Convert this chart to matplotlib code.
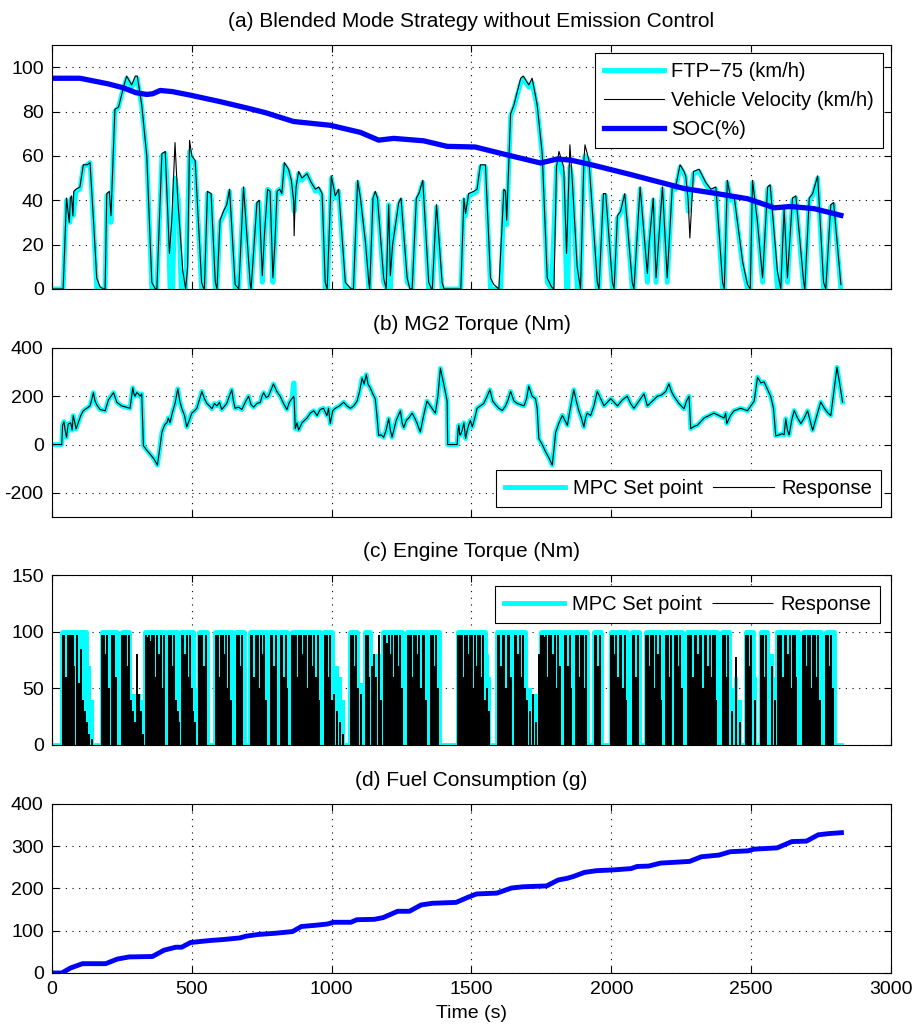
import matplotlib
matplotlib.use('Agg')
import matplotlib.pyplot as plt

plt.rcParams['font.family'] = ['Liberation Sans', 'DejaVu Sans']
plt.rcParams['axes.unicode_minus'] = False

# ---------------- (a) drive cycle, vehicle speed and SOC ----------------
ftp_t = [0, 40, 52, 64, 70, 76, 86, 100, 112, 126, 136, 148, 160,
         190, 196, 205, 211, 225, 238, 250, 267, 285, 305, 321, 339, 357,
         375, 393, 405, 413, 422, 432, 440, 452, 462,
         478, 492, 500, 512, 535,
         545, 556, 569, 584,
         590, 601, 613, 625, 635, 655,
         668, 685, 709,
         712, 733, 741, 752, 760, 771, 780, 790,
         797, 805, 814, 822, 831, 846, 856, 866, 873, 882, 894, 912, 927, 942, 954, 966, 977,
         985, 999, 1013, 1025, 1049,
         1078, 1093, 1103, 1121, 1133,
         1136, 1148, 1156, 1164, 1186,
         1198, 1204, 1210, 1218, 1240, 1248, 1270,
         1288, 1303, 1312, 1326, 1347,
         1360, 1375, 1395, 1462,
         1473, 1479, 1490, 1508, 1520, 1532, 1550, 1568, 1605,
         1616, 1622, 1626, 1640, 1652, 1676, 1685, 1705, 1717, 1735, 1753, 1771, 1786,
         1804, 1813, 1830, 1840, 1845, 1852, 1860, 1878, 1890,
         1902, 1906, 1920, 1950,
         1956, 1972, 1980, 2004,
         2010, 2022, 2033, 2048, 2075,
         2081, 2103, 2129, 2135, 2150, 2160, 2183, 2200, 2218, 2230, 2246, 2260, 2266, 2275, 2294, 2314, 2338, 2356, 2374, 2398,
         2404, 2415, 2427, 2439, 2470, 2487,
         2497, 2505, 2522, 2541, 2559, 2568, 2594,
         2606, 2618, 2630, 2648, 2660, 2688,
         2692, 2708, 2720, 2738, 2759,
         2767, 2785, 2795, 2821]
ftp_kmh = [0, 0, 40, 30, 41, 33, 44, 45, 55, 56, 57, 30, 0,
           0, 42, 43, 30, 80, 82, 88, 95, 91, 95, 82, 60, 0,
           0, 60, 61, 45, 0, 0, 50, 40, 0,
           0, 62, 58, 57, 0,
           0, 43, 42, 0,
           0, 30, 33, 37, 44, 0,
           0, 45, 0,
           0, 38, 39, 3, 25, 45, 44, 3,
           20, 44, 45, 43, 56, 53, 48, 35, 45, 52, 49, 52, 48, 44, 45, 42, 0,
           0, 50, 41, 44, 0,
           0, 48, 40, 20, 0,
           0, 40, 43, 40, 3,
           0, 38, 0, 20, 38, 40, 3,
           0, 40, 42, 48, 0,
           0, 37, 0, 0,
           40, 33, 42, 43, 44, 55, 55, 0, 0,
           44, 43, 29, 78, 82, 93, 95, 91, 93, 82, 60, 3, 0,
           55, 58, 50, 0, 0, 55, 50, 0, 0,
           58, 60, 58, 0,
           0, 42, 42, 0,
           0, 32, 34, 42, 0,
           0, 45, 3, 20, 40, 3, 45, 3, 45, 45, 55, 52, 50, 35, 52, 53, 47, 44, 45, 0,
           0, 48, 40, 41, 10, 0,
           0, 48, 30, 3, 45, 46, 0,
           0, 35, 3, 40, 41, 0,
           0, 40, 42, 50, 0,
           0, 37, 38, 0]

veh_t = [0, 40, 52, 62, 66, 70, 75, 78, 86, 100, 112, 126, 136, 148, 160, 172, 184,
         190, 196, 205, 211, 225, 238, 250, 258, 267, 285, 298, 305, 321, 339, 357, 370,
         375, 393, 405, 413, 420, 428, 440, 450, 468, 478,
         485, 492, 500, 512, 535, 543,
         545, 556, 569, 584, 590,
         601, 613, 625, 635, 655,
         668, 685, 709,
         712, 733, 741, 752, 760, 771, 780, 790,
         797, 805, 814, 822, 831, 846, 856, 864, 866, 869, 873, 882, 894, 912, 927, 942, 954, 966, 977, 984,
         999, 1013, 1025, 1049, 1070,
         1078, 1093, 1103, 1121, 1133,
         1136, 1148, 1156, 1164, 1186, 1195,
         1204, 1210, 1218, 1240, 1248, 1270, 1280,
         1288, 1303, 1312, 1326, 1347, 1357,
         1360, 1375, 1395, 1402, 1462,
         1473, 1479, 1490, 1508, 1520, 1532, 1550, 1568, 1580, 1598,
         1616, 1622, 1626, 1640, 1652, 1676, 1685, 1705, 1717, 1735, 1753, 1771, 1786, 1795,
         1804, 1813, 1830, 1840, 1852, 1860, 1878, 1890,
         1902, 1906, 1920, 1950, 1956,
         1972, 1980, 2004, 2010,
         2022, 2033, 2048, 2075, 2081,
         2103, 2129, 2135, 2150, 2160, 2183, 2200, 2218, 2230, 2246, 2260, 2266, 2275, 2281, 2294, 2314, 2338, 2356, 2374, 2398, 2404,
         2415, 2427, 2439, 2470, 2487, 2497,
         2505, 2522, 2541, 2559, 2568, 2594, 2606,
         2618, 2630, 2648, 2660, 2688, 2692,
         2708, 2720, 2738, 2759, 2767,
         2785, 2795, 2821]
veh_kmh = [0, 0, 41, 30, 41, 42, 33, 44, 45, 46, 56, 56, 57, 32, 5, 1, 0,
           0, 43, 44, 33, 81, 82, 88, 92, 96, 92, 96, 96, 83, 60, 3, 0,
           0, 61, 62, 37, 16, 30, 66, 40, 8, 0,
           10, 67, 60, 58, 3, 0,
           0, 44, 43, 3, 0,
           31, 35, 38, 45, 2,
           0, 46, 2,
           0, 39, 40, 6, 25, 45, 44, 5,
           20, 44, 45, 43, 57, 54, 49, 40, 24, 38, 46, 53, 50, 52, 48, 45, 46, 43, 3, 0,
           51, 42, 45, 3, 0,
           0, 49, 41, 21, 3,
           0, 41, 44, 41, 5, 0,
           38, 6, 20, 39, 41, 5, 0,
           0, 41, 43, 49, 3, 0,
           0, 38, 3, 0, 0,
           41, 34, 43, 44, 45, 56, 56, 5, 2, 0,
           45, 44, 31, 79, 83, 95, 96, 92, 95, 83, 61, 5, 1, 0,
           55, 62, 55, 16, 65, 50, 10, 0,
           58, 65, 58, 3, 0,
           43, 43, 3, 0,
           33, 35, 43, 3, 0,
           46, 7, 20, 41, 5, 46, 5, 46, 46, 56, 53, 51, 40, 23, 53, 54, 48, 45, 46, 3, 0,
           49, 41, 42, 12, 2, 0,
           49, 31, 5, 46, 47, 8, 0,
           36, 5, 41, 42, 3, 0,
           41, 43, 51, 3, 0,
           38, 39, 2]

soc_t = [0, 100, 200, 255, 300, 339, 360, 387, 430, 494,
         600, 700, 763, 864, 995, 1103, 1168, 1222, 1329, 1413,
         1514, 1616, 1747, 1807, 1855, 1926, 2069, 2260, 2368, 2487,
         2583, 2642, 2726, 2821]
soc_pct = [95, 95, 92.5, 90.7, 88.5, 87.7, 88, 89.5, 89, 87.4,
           84.5, 81.5, 79.5, 75.5, 73.8, 70.6, 67.1, 67.9, 66.8, 64.3,
           64.0, 60.8, 56.8, 58.6, 58.1, 56.1, 51.6, 45.3, 43.2, 40.7,
           36.6, 37.2, 36.2, 33.2]

# ---------------- (b) MG2 torque ----------------
mg2_t = [0, 35, 38, 43, 47, 52, 58, 67, 72, 76, 81, 86, 94, 103, 112, 124, 136, 142, 148, 154,
         160, 172, 190, 202, 211, 220, 232, 249, 265, 279, 285, 289, 293, 297, 303, 309, 315, 321,
         327, 340, 351, 365, 377, 385, 393, 399, 405, 411, 416, 422, 430, 440, 450, 457, 464, 474,
         482, 491, 500, 510, 518, 527, 536, 545, 554, 563, 572, 581, 590, 599, 607, 625, 634, 643,
         649, 655, 667, 679, 691, 703, 712, 721, 733, 745, 751, 757, 766, 774, 783, 792, 804, 816,
         828, 840, 849, 858, 864, 866, 870, 876, 882, 894, 912, 924, 936, 948, 959, 971, 983, 989,
         995, 1004, 1013, 1028, 1043, 1055, 1067, 1079, 1091, 1100, 1109, 1116, 1124, 1130, 1138,
         1147, 1156, 1162, 1168, 1177, 1186, 1195, 1204, 1210, 1216, 1231, 1246, 1252, 1258, 1267,
         1276, 1288, 1297, 1305, 1311, 1317, 1329, 1341, 1350, 1359, 1365, 1371, 1380, 1389, 1401,
         1413, 1415, 1449, 1452, 1455, 1458, 1461, 1467, 1473, 1479, 1485, 1490, 1496, 1503, 1512,
         1520, 1532, 1544, 1556, 1566, 1576, 1586, 1598, 1610, 1622, 1631, 1640, 1652, 1664, 1676,
         1688, 1697, 1705, 1717, 1729, 1735, 1741, 1753, 1765, 1777, 1789, 1795, 1801, 1813, 1825,
         1834, 1843, 1852, 1860, 1866, 1875, 1884, 1893, 1902, 1908, 1914, 1920, 1926, 1938, 1950,
         1962, 1974, 1986, 1998, 2010, 2022, 2040, 2057, 2069, 2081, 2099, 2117, 2129, 2147, 2165,
         2180, 2195, 2206, 2215, 2224, 2242, 2260, 2269, 2278, 2284, 2296, 2308, 2320, 2332, 2350,
         2367, 2385, 2403, 2409, 2413, 2426, 2439, 2451, 2463, 2475, 2487, 2499, 2511, 2517, 2523,
         2535, 2546, 2558, 2570, 2580, 2588, 2600, 2612, 2618, 2624, 2630, 2636, 2645, 2654, 2666,
         2678, 2690, 2702, 2711, 2720, 2735, 2749, 2762, 2775, 2785, 2796, 2807, 2817, 2827]
mg2_setpoint = [0, 0, 80, 95, 60, 30, 85, 90, 60, 120, 95, 65, 90, 120, 140, 150, 160, 185, 215, 180,
                165, 145, 140, 185, 200, 215, 175, 160, 155, 150, 200, 235, 210, 200, 215, 210, 200, 210,
                -5, -25, -40, -60, -85, -20, 50, 70, 85, 90, 110, 90, 130, 170, 231, 180, 150, 120,
                73, 100, 130, 140, 150, 185, 220, 190, 170, 160, 148, 170, 160, 175, 145, 170, 200, 227,
                180, 150, 155, 145, 175, 200, 165, 155, 170, 175, 200, 215, 195, 200, 225, 251, 220, 200,
                170, 145, 175, 190, 255, 255, 66, 90, 60, 90, 110, 130, 140, 120, 145, 150, 120, 150,
                87, 140, 150, 160, 175, 160, 150, 160, 180, 220, 275, 250, 290, 250, 235,
                210, 190, 120, 38, 40, 30, 60, 107, 60, 30, 100, 140, 90, 70, 100,
                110, 130, 110, 90, 70, 52, 120, 180, 165, 150, 140, 130, 200, 316, 250,
                180, 0, 0, 60, 80, 40, 40, 60, 90, 25, 60, 80, 100, 73, 110,
                150, 160, 170, 200, 227, 180, 165, 150, 141, 160, 185, 220, 180, 170, 165,
                160, 190, 242, 200, 190, 150, 25, 0, -30, -55, -85, -20, 50, 90, 121,
                100, 80, 140, 190, 227, 180, 140, 110, 73, 110, 130, 125, 120, 160, 220,
                190, 160, 175, 190, 175, 160, 185, 200, 170, 150, 180, 210, 160, 180, 200,
                205, 220, 251, 220, 200, 170, 148, 180, 200, 66, 75, 80, 95, 110, 120,
                130, 120, 110, 130, 87, 120, 140, 145, 150, 145, 140, 160, 180, 230, 279,
                255, 260, 230, 200, 150, 36, 40, 45, 40, 107, 60, 40, 100, 141, 110,
                87, 110, 140, 100, 59, 120, 176, 150, 130, 120, 220, 320, 250, 176]
mg2_response = [0, 0, 80, 95, 60, 30, 85, 90, 60, 120, 95, 65, 90, 120, 140, 150, 160, 185, 215, 180,
                165, 145, 140, 185, 200, 215, 175, 160, 155, 150, 200, 235, 210, 200, 215, 210, 200, 210,
                -5, -25, -40, -60, -85, -20, 50, 70, 85, 90, 110, 90, 130, 170, 231, 180, 150, 120,
                73, 100, 130, 140, 150, 185, 220, 190, 170, 160, 148, 170, 160, 175, 145, 170, 200, 227,
                180, 150, 155, 145, 175, 200, 165, 155, 170, 175, 200, 215, 195, 200, 225, 251, 220, 200,
                170, 145, 175, 190, 200, 190, 66, 90, 60, 90, 110, 130, 140, 120, 145, 150, 120, 150,
                87, 140, 150, 160, 175, 160, 150, 160, 180, 220, 275, 250, 290, 250, 235,
                210, 190, 120, 38, 40, 30, 60, 107, 60, 30, 100, 140, 90, 70, 100,
                110, 130, 110, 90, 70, 52, 120, 180, 165, 150, 140, 130, 200, 316, 250,
                180, 0, 0, 60, 80, 40, 40, 60, 90, 25, 60, 80, 100, 73, 110,
                150, 160, 170, 200, 227, 180, 165, 150, 141, 160, 185, 220, 180, 170, 165,
                160, 190, 242, 200, 190, 150, 25, 0, -30, -55, -85, -20, 50, 90, 121,
                100, 80, 140, 190, 227, 180, 140, 110, 73, 110, 130, 125, 120, 160, 220,
                190, 160, 175, 190, 175, 160, 185, 200, 170, 150, 180, 210, 160, 180, 200,
                205, 220, 251, 220, 200, 170, 148, 180, 200, 66, 75, 80, 95, 110, 120,
                130, 120, 110, 130, 87, 120, 140, 145, 150, 145, 140, 160, 180, 230, 279,
                255, 260, 230, 200, 150, 36, 40, 45, 40, 107, 60, 40, 100, 141, 110,
                87, 110, 140, 100, 59, 120, 176, 150, 130, 120, 220, 320, 250, 176]

# ---------------- (c) engine torque ----------------
# intervals where the set point sits at its 100 Nm ceiling
engine_on_start = [35, 178, 214, 249, 333, 416, 462, 524, 584, 659, 709, 780, 816, 858, 974,
                   1067, 1121, 1184, 1270, 1353, 1451, 1592, 1652, 1747, 1831, 1872, 1938, 1998,
                   2075, 2123, 2195, 2227, 2272, 2397, 2481, 2534, 2594, 2684, 2767]
engine_on_end = [122, 205, 232, 277, 405, 446, 506, 556, 643, 685, 768, 804, 842, 959, 1001,
                 1091, 1138, 1252, 1341, 1383, 1550, 1646, 1693, 1819, 1860, 1914, 1962, 2057,
                 2099, 2183, 2218, 2254, 2379, 2421, 2505, 2558, 2666, 2749, 2797]
cycle_end = 2821

# on/off switching pulses: time, set point peak, response peak
engine_pulse_t = (
    [38, 44, 50, 56, 62, 68, 74, 80, 88, 96, 104, 112, 118, 126, 134, 142]
    + [180, 186, 192, 198, 204] + [216, 222, 228]
    + [251, 257, 263, 269, 275, 283, 290, 297, 303, 310, 318, 326]
    + [335, 341, 347, 353, 359, 365, 371, 377, 383, 389, 395, 401]
    + [418, 424, 430, 436, 442, 450, 456]
    + [464, 470, 476, 482, 488, 494, 500, 505, 512]
    + [526, 532, 538, 544, 550]
    + [586, 592, 598, 604, 610, 616, 622, 628, 634, 640]
    + [661, 667, 673, 679]
    + [711, 717, 723, 729, 735, 741, 747, 753, 759, 765]
    + [782, 788, 794, 800] + [818, 824, 830, 836, 841]
    + [860, 866, 872, 878, 884, 890, 896, 902, 908, 914, 920, 926, 932, 938, 944, 950, 956]
    + [976, 982, 988, 994, 1000, 1010, 1020, 1030, 1040]
    + [1069, 1075, 1081, 1087, 1095, 1105]
    + [1123, 1129, 1135, 1145, 1152, 1160, 1168, 1175]
    + [1186, 1192, 1198, 1204, 1210, 1216, 1222, 1228, 1234, 1240, 1246, 1251]
    + [1272, 1278, 1284, 1290, 1296, 1302, 1308, 1314, 1320, 1326, 1332, 1338]
    + [1355, 1361, 1367, 1373, 1379]
    + [1453, 1459, 1465, 1471, 1477, 1483, 1489, 1495, 1501, 1507, 1513, 1519, 1525, 1531, 1537,
       1543, 1549, 1556, 1562]
    + [1594, 1600, 1606, 1612, 1618, 1624, 1630, 1636, 1642]
    + [1654, 1660, 1666, 1672, 1678, 1684, 1690, 1700, 1710, 1720, 1730, 1740]
    + [1749, 1755, 1761, 1767, 1773, 1779, 1785, 1791, 1797, 1803, 1809, 1815]
    + [1833, 1839, 1845, 1851, 1857] + [1874, 1880, 1886, 1892, 1898, 1904, 1910]
    + [1940, 1946, 1952, 1958]
    + [2000, 2006, 2012, 2018, 2024, 2030, 2036, 2042, 2048, 2054]
    + [2077, 2083, 2089, 2095]
    + [2125, 2131, 2137, 2143, 2149, 2155, 2161, 2167, 2173, 2179]
    + [2197, 2203, 2209, 2215] + [2229, 2235, 2241, 2247, 2252]
    + [2274, 2280, 2286, 2292, 2298, 2304, 2310, 2316, 2322, 2328, 2334, 2340, 2346, 2352, 2358,
       2364, 2370, 2376]
    + [2399, 2405, 2411, 2417, 2430, 2445, 2460]
    + [2483, 2489, 2495, 2501, 2515]
    + [2536, 2542, 2548, 2554, 2575, 2585]
    + [2596, 2602, 2608, 2614, 2620, 2626, 2632, 2638, 2644, 2650, 2656, 2662]
    + [2686, 2692, 2698, 2704, 2710, 2716, 2722, 2728, 2734, 2740, 2746]
    + [2769, 2775, 2781, 2787, 2793]
)
engine_pulse_sp = (
    [100] * 12 + [80, 75, 70, 40]
    + [100] * 5 + [100] * 3
    + [100] * 5 + [45, 45, 45, 40, 45, 40, 20]
    + [100] * 12
    + [100] * 5 + [60, 55]
    + [100] * 8 + [50]
    + [100] * 5
    + [100] * 10
    + [100] * 4
    + [100] * 10
    + [100] * 4 + [100] * 5
    + [100] * 17
    + [100] * 5 + [70, 70, 60, 40]
    + [100] * 4 + [60, 55]
    + [100] * 3 + [80, 80, 80, 80, 50]
    + [100] * 12
    + [100] * 12
    + [100] * 5
    + [100] * 17 + [80, 60]
    + [100] * 9
    + [100] * 7 + [50, 50, 45, 45, 40]
    + [100] * 12
    + [100] * 5 + [100] * 7
    + [100] * 4
    + [100] * 10
    + [100] * 4
    + [100] * 10
    + [100] * 4 + [100] * 5
    + [100] * 18
    + [100] * 4 + [50, 60, 40]
    + [100] * 4 + [60]
    + [100] * 4 + [80, 60]
    + [100] * 12
    + [100] * 11
    + [100] * 5
)
engine_pulse_resp = (
    [97, 97, 60, 97, 97, 97, 97, 70, 97, 55, 85, 40, 30, 20, 10, 5]
    + [97, 97, 80, 97, 50] + [97, 97, 60]
    + [97, 97, 97, 70, 97, 40, 30, 20, 80, 45, 30, 10]
    + [97, 95, 97, 92, 97, 97, 60, 97, 80, 97, 50, 97]
    + [97, 97, 70, 97, 40, 30, 20]
    + [97, 97, 80, 97, 60, 97, 50, 30, 20]
    + [97, 97, 97, 70, 97]
    + [97, 97, 60, 97, 97, 80, 97, 50, 97, 40]
    + [97, 97, 70, 97]
    + [97, 97, 60, 97, 97, 50, 97, 80, 97, 40]
    + [97, 97, 70, 97] + [97, 97, 60, 97, 50]
    + [97, 97, 97, 60, 97, 97, 80, 97, 97, 50, 97, 97, 70, 97, 60, 97, 40]
    + [97, 97, 60, 97, 40, 45, 30, 20, 10]
    + [97, 97, 70, 97, 50, 45]
    + [97, 97, 60, 70, 80, 60, 97, 40]
    + [97, 97, 90, 97, 80, 97, 60, 97, 97, 70, 97, 50]
    + [97, 97, 97, 60, 97, 97, 80, 97, 50, 97, 97, 40]
    + [97, 97, 70, 97, 50]
    + [97, 97, 97, 60, 97, 97, 80, 97, 97, 50, 97, 70, 97, 97, 60, 97, 40, 50, 30]
    + [97, 97, 70, 97, 97, 50, 97, 97, 60]
    + [97, 97, 80, 97, 60, 97, 50, 40, 30, 45, 20, 80]
    + [97, 97, 95, 97, 60, 97, 97, 80, 97, 50, 97, 70]
    + [97, 97, 70, 97, 50] + [97, 97, 60, 97, 97, 50, 97]
    + [97, 97, 70, 97]
    + [97, 97, 80, 97, 60, 97, 97, 50, 97, 40]
    + [97, 97, 60, 97]
    + [97, 97, 70, 97, 97, 50, 97, 80, 97, 40]
    + [97, 97, 60, 97] + [97, 97, 70, 97, 50]
    + [97, 97, 97, 60, 97, 97, 80, 97, 97, 50, 97, 97, 70, 97, 60, 97, 97, 40]
    + [97, 97, 60, 97, 30, 78, 20]
    + [97, 97, 70, 97, 40]
    + [97, 97, 60, 97, 70, 40]
    + [97, 97, 97, 60, 97, 97, 80, 97, 50, 97, 97, 60]
    + [97, 97, 70, 97, 97, 50, 97, 97, 60, 97, 40]
    + [97, 97, 70, 97, 50]
)

# ---------------- (d) cumulative fuel ----------------
fuel_t = [0, 35, 67, 109, 192, 234, 276, 359, 401, 443, 464, 495, 537, 568, 610, 672, 693, 735,
          798, 860, 892, 944, 986, 1006, 1069, 1090, 1153, 1184, 1236, 1278, 1320, 1361, 1445,
          1487, 1518, 1591, 1643, 1685, 1769, 1810, 1842, 1863, 1904, 1946, 2009, 2071, 2092,
          2134, 2176, 2280, 2322, 2385, 2426, 2489, 2510, 2593, 2646, 2698, 2740, 2781, 2823]
fuel_g = [0, 0, 12, 22, 22, 33, 38, 39, 54, 61, 61, 72, 75, 77, 79, 83, 87, 91,
          94, 98, 110, 113, 116, 120, 120, 126, 127, 131, 146, 146, 161, 165, 167,
          179, 187, 189, 201, 204, 206, 220, 224, 228, 238, 242, 244, 247, 252,
          253, 260, 264, 275, 279, 287, 289, 293, 296, 311, 312, 327, 330, 332]

CYAN = (0, 1, 1)
BLUE = (0, 0, 1)
FS_TICK = 14
FS_LEG = 14.5
FS_TITLE = 15

fig = plt.figure(figsize=(9.15, 10.27), dpi=100)
ax_a = fig.add_axes([0.0568, 0.7186, 0.9169, 0.2376])
ax_b = fig.add_axes([0.0568, 0.4966, 0.9169, 0.1646])
ax_c = fig.add_axes([0.0568, 0.2746, 0.9169, 0.1655])
ax_d = fig.add_axes([0.0568, 0.0526, 0.9169, 0.1646])


def matlab_style(ax, title, yticks, ylim, show_x=False):
    ax.set_xlim(0, 3000)
    ax.set_ylim(*ylim)
    ax.set_xticks(range(0, 3001, 500))
    ax.set_yticks(yticks)
    ax.grid(True, color='k', linestyle=(0, (1, 5)), linewidth=0.8)
    ax.tick_params(direction='in', top=True, right=True, length=5, width=0.8,
                   labelsize=FS_TICK, pad=6)
    if not show_x:
        ax.tick_params(labelbottom=False)
    for s in ax.spines.values():
        s.set_linewidth(0.8)
    ax.set_title(title, fontsize=FS_TITLE, pad=13)


leg_kw = dict(fontsize=FS_LEG, fancybox=False, framealpha=1, edgecolor='k',
              handlelength=3.0, handletextpad=0.35, borderpad=0.45)

# (a)
ax_a.plot(ftp_t, ftp_kmh, color=CYAN, lw=3.5, label='FTP\u221275 (km/h)')
ax_a.plot(veh_t, veh_kmh, color='k', lw=0.8, label='Vehicle Velocity (km/h)')
ax_a.plot(soc_t, soc_pct, color=BLUE, lw=3.8, label='SOC(%)')
matlab_style(ax_a, '(a) Blended Mode Strategy without Emission Control',
             range(0, 101, 20), (0, 110))
leg = ax_a.legend(loc='upper right', borderaxespad=0.4, **leg_kw)
leg.get_frame().set_linewidth(0.8)

# (b)
ax_b.plot(mg2_t, mg2_setpoint, color=CYAN, lw=3.5, label='MPC Set point')
ax_b.plot(mg2_t, mg2_response, color='k', lw=0.8, label='Response')
matlab_style(ax_b, '(b) MG2 Torque (Nm)', [-200, 0, 200, 400], (-300, 400))
leg = ax_b.legend(loc='lower right', ncol=2, columnspacing=0.55,
                  borderaxespad=0.5, **leg_kw)
leg.get_frame().set_linewidth(0.8)

# (c) set point outline at 0/100 plus switching pulses
sp_x, sp_y = [0], [0]
for s, e in zip(engine_on_start, engine_on_end):
    sp_x += [s, s, e, e]
    sp_y += [0, 100, 100, 0]
sp_x.append(cycle_end)
sp_y.append(0)
ax_c.plot(sp_x, sp_y, color=CYAN, lw=3.5, label='MPC Set point')
ax_c.vlines(engine_pulse_t, 0, engine_pulse_sp, color=CYAN, lw=3.0)
ax_c.vlines(engine_pulse_t, 0, engine_pulse_resp, color='k', lw=1.2,
            antialiased=False, label='Response')
matlab_style(ax_c, '(c) Engine Torque (Nm)', [0, 50, 100, 150], (0, 150))
leg = ax_c.legend(loc='upper right', ncol=2, columnspacing=0.55,
                  borderaxespad=0.55, **leg_kw)
leg.get_frame().set_linewidth(0.8)
leg.legend_handles[1].set_linewidth(0.8)

# (d)
ax_d.plot(fuel_t, fuel_g, color=BLUE, lw=3.5)
matlab_style(ax_d, '(d) Fuel Consumption (g)', range(0, 401, 100), (0, 400), show_x=True)
ax_d.set_xlabel('Time (s)', fontsize=FS_TICK, labelpad=5)

fig.savefig('out.png', dpi=100)
